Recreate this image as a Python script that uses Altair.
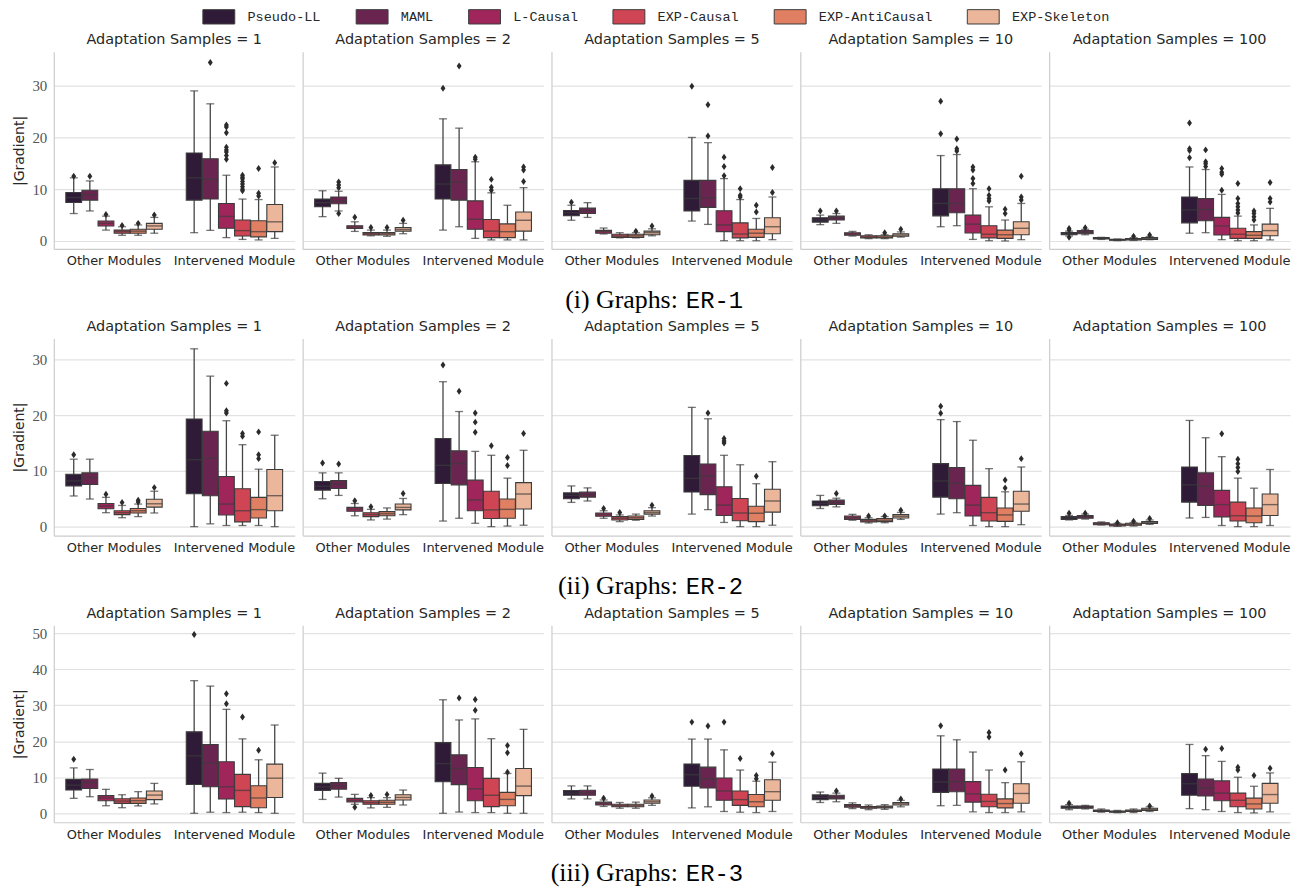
import altair as alt
import pandas as pd

METHODS = ["Pseudo-LL", "MAML", "L-Causal", "EXP-Causal", "EXP-AntiCausal", "EXP-Skeleton"]
COLORS = ["#2f1b38", "#6a2450", "#a0255b", "#d04553", "#e07f62", "#ebb699"]
CATEGORIES = ["Other Modules", "Intervened Module"]
SAMPLES = [1, 2, 5, 10, 100]
GRAPHS = ["ER-1", "ER-2", "ER-3"]
ROMAN = ["(i)", "(ii)", "(iii)"]
Y_DOMAINS = [[-1.54, 36.54], [-1.61, 33.75], [-2.49, 52.2]]
Y_TICKS = [[0, 10, 20, 30], [0, 10, 20, 30], [0, 10, 20, 30, 40, 50]]

# each inner list: 6 "Other Modules" boxes then 6 "Intervened Module" boxes (METHODS order)
# ---------------- ER-1 ----------------
ER1_LOW = [
    [5.3, 5.8, 2.1, 1.1, 1.1, 1.5, 1.6, 2.05, 0.65, 0.3, 0.2, 0.5],
    [4.7, 5.8, 1.85, 1.0, 0.9, 1.4, 2.1, 2.75, 0.5, 0.2, 0.2, 0.2],
    [4.0, 4.55, 1.35, 0.6, 0.6, 1.0, 3.85, 3.2, 0.05, 0.05, 0.05, 0.25],
    [3.15, 3.4, 0.95, 0.45, 0.45, 0.75, 2.75, 2.95, 0.3, 0.05, 0.0, 0.25],
    [0.95, 1.2, 0.3, 0.06, 0.1, 0.25, 1.5, 1.6, 0.25, 0.05, 0.05, 0.2],
]
ER1_Q1 = [
    [7.44, 7.9, 2.9, 1.5, 1.5, 2.25, 7.9, 8.1, 2.45, 0.95, 0.8, 1.8],
    [6.6, 7.2, 2.4, 1.15, 1.15, 1.9, 8.1, 7.9, 2.25, 0.65, 0.65, 1.9],
    [4.9, 5.3, 1.5, 0.7, 0.7, 1.2, 5.8, 6.5, 1.8, 0.6, 0.7, 1.4],
    [3.65, 4.05, 1.1, 0.6, 0.6, 0.9, 4.85, 5.45, 1.55, 0.6, 0.5, 1.2],
    [1.2, 1.4, 0.4, 0.13, 0.2, 0.3, 3.5, 3.9, 1.15, 0.5, 0.5, 1.0],
]
ER1_MED = [
    [8.4, 8.9, 3.4, 1.8, 1.9, 2.9, 12.2, 11.9, 4.75, 2.0, 1.8, 3.7],
    [7.4, 7.75, 2.7, 1.4, 1.4, 2.25, 11.0, 11.4, 4.2, 1.9, 1.8, 4.0],
    [5.45, 5.85, 1.8, 0.95, 1.0, 1.6, 8.2, 8.35, 3.1, 1.35, 1.5, 2.75],
    [4.05, 4.5, 1.35, 0.75, 0.75, 1.15, 7.25, 7.25, 3.25, 1.3, 1.2, 2.45],
    [1.45, 1.65, 0.5, 0.2, 0.3, 0.5, 6.0, 6.1, 2.9, 1.3, 1.1, 2.0],
]
ER1_Q3 = [
    [9.36, 9.8, 3.85, 2.1, 2.25, 3.4, 17.0, 15.9, 7.25, 4.05, 3.9, 7.05],
    [8.1, 8.5, 2.95, 1.65, 1.65, 2.6, 14.7, 13.8, 7.75, 4.15, 3.3, 5.6],
    [5.9, 6.35, 2.05, 1.3, 1.3, 1.9, 11.7, 11.7, 5.85, 3.5, 2.25, 4.5],
    [4.5, 4.8, 1.6, 1.0, 1.0, 1.4, 10.1, 10.1, 5.0, 2.95, 2.1, 3.7],
    [1.65, 2.0, 0.65, 0.3, 0.45, 0.65, 8.5, 8.2, 4.55, 2.45, 1.8, 3.25],
]
ER1_HIGH = [
    [12.2, 11.6, 4.8, 2.75, 3.1, 4.55, 29.0, 26.5, 12.7, 8.1, 8.0, 14.3],
    [9.7, 9.6, 3.7, 2.1, 2.1, 3.4, 23.6, 21.8, 15.3, 9.3, 6.9, 10.3],
    [6.9, 7.4, 2.5, 1.6, 1.6, 2.35, 20.0, 19.0, 12.05, 8.0, 4.35, 8.5],
    [5.0, 5.3, 1.85, 1.2, 1.2, 1.75, 16.5, 16.7, 10.1, 6.6, 4.05, 7.25],
    [1.9, 2.25, 0.7, 0.38, 0.65, 0.85, 14.3, 13.8, 9.0, 4.8, 3.1, 6.3],
]
ER1_OUT = [
    [[12.5], [12.5], [5.1], [3.0], [3.4], [5.0],
     [], [34.5], [22.4, 22.0, 20.9, 18.1, 17.6, 17.2, 16.5, 15.8],
     [12.7, 12.3, 12.0, 11.5, 11.0, 10.5, 10.0, 9.7], [14.0, 9.2, 8.7], [15.1]],
    [[], [11.4, 10.8, 10.3, 5.3], [4.6], [2.6], [2.6], [4.0],
     [29.5], [33.8], [16.2, 15.8], [11.9, 10.4, 9.8], [], [14.3, 13.7, 11.5]],
    [[7.5], [], [], [], [1.9], [2.9],
     [29.9], [26.3, 20.3], [16.2, 14.4, 12.6], [10.1, 8.85, 8.5], [6.9, 5.6], [14.2, 9.35]],
    [[5.8], [5.8], [], [], [1.6], [2.25],
     [27.0, 20.7], [19.7, 17.8, 17.4], [14.3, 13.7, 12.05, 11.1], [10.1, 8.85, 8.2, 7.7],
     [6.15, 5.3], [12.5, 8.5, 7.9]],
    [[2.4, 2.1, 0.7], [2.55], [], [], [0.9], [1.15],
     [22.8, 17.8, 17.5, 16.1], [17.6, 15.3, 14.9, 14.4], [14.0, 13.3, 12.9, 9.8],
     [11.1, 8.2, 7.25, 6.6, 6.0, 5.4], [5.8, 5.3, 4.7, 4.05], [11.3, 8.2, 7.55]],
]
# ---------------- ER-2 ----------------
ER2_LOW = [
    [5.5, 4.95, 2.5, 1.6, 1.8, 2.45, 0.0, 0.5, 0.2, 0.2, 0.2, 0.0],
    [5.0, 5.6, 1.95, 1.2, 1.35, 2.15, 1.0, 1.5, 0.6, 0.0, 0.1, 0.25],
    [4.35, 4.6, 1.5, 0.9, 1.15, 1.9, 2.25, 3.05, 0.75, 0.0, 0.0, 0.25],
    [3.25, 3.55, 1.15, 0.65, 0.7, 1.3, 2.25, 2.5, 0.2, 0.0, 0.0, 0.35],
    [1.2, 1.35, 0.3, 0.05, 0.1, 0.4, 1.55, 1.65, 0.2, 0.0, 0.0, 0.2],
]
ER2_Q1 = [
    [7.3, 7.55, 3.2, 2.15, 2.45, 3.5, 5.9, 5.55, 2.1, 0.85, 1.55, 2.85],
    [6.55, 6.85, 2.75, 1.8, 1.95, 3.0, 7.75, 7.5, 2.85, 1.45, 1.5, 3.15],
    [5.0, 5.3, 1.85, 1.2, 1.3, 2.25, 6.2, 5.75, 2.0, 1.05, 0.9, 2.6],
    [3.75, 4.0, 1.3, 0.85, 0.9, 1.55, 5.3, 5.0, 1.9, 1.0, 0.95, 2.75],
    [1.3, 1.5, 0.35, 0.12, 0.25, 0.55, 4.4, 3.8, 1.75, 1.0, 0.7, 2.0],
]
ER2_MED = [
    [8.2, 8.75, 3.7, 2.5, 2.85, 4.1, 12.0, 12.3, 4.05, 2.85, 3.05, 5.55],
    [7.25, 7.6, 3.15, 2.15, 2.3, 3.45, 11.0, 11.3, 4.8, 3.0, 3.1, 5.85],
    [5.6, 5.75, 2.15, 1.5, 1.6, 2.55, 8.65, 9.05, 3.85, 2.45, 2.4, 4.6],
    [4.15, 4.35, 1.6, 1.05, 1.15, 1.85, 8.2, 7.75, 3.85, 2.5, 2.1, 4.05],
    [1.55, 1.75, 0.55, 0.3, 0.4, 0.7, 7.5, 7.25, 3.95, 1.95, 1.9, 3.95],
]
ER2_Q3 = [
    [9.4, 9.65, 4.15, 2.85, 3.25, 4.9, 19.3, 17.1, 9.0, 6.8, 5.25, 10.25],
    [8.1, 8.25, 3.45, 2.5, 2.7, 4.05, 15.8, 13.6, 8.35, 6.35, 4.95, 7.9],
    [6.05, 6.2, 2.45, 1.8, 1.9, 2.85, 12.75, 11.25, 7.15, 5.05, 3.65, 6.7],
    [4.6, 4.75, 1.9, 1.3, 1.45, 2.15, 11.3, 10.6, 7.4, 5.25, 3.35, 6.35],
    [1.8, 2.0, 0.7, 0.45, 0.6, 0.9, 10.7, 9.65, 6.5, 4.4, 3.35, 5.85],
]
ER2_HIGH = [
    [12.1, 12.1, 5.25, 3.8, 4.05, 6.35, 31.9, 27.0, 19.0, 14.7, 10.3, 16.4],
    [9.65, 9.65, 4.15, 3.1, 3.35, 5.05, 26.0, 20.65, 13.5, 12.8, 8.7, 13.7],
    [7.3, 6.95, 2.85, 2.1, 2.25, 3.4, 21.4, 19.35, 12.8, 11.1, 7.7, 11.65],
    [5.6, 5.1, 2.2, 1.6, 1.8, 2.55, 19.2, 18.85, 15.5, 10.4, 6.25, 10.7],
    [2.0, 2.25, 0.85, 0.6, 0.75, 1.2, 19.05, 15.95, 12.55, 8.7, 6.9, 10.25],
]
ER2_OUT = [
    [[12.9], [], [5.8], [4.35], [4.75, 4.4], [7.0],
     [], [], [25.7, 20.8, 20.4], [16.7, 16.2], [17.0, 12.9, 12.2], []],
    [[11.4], [11.25], [4.65], [3.55], [], [5.95],
     [29.0], [24.3], [20.4, 18.75, 16.95], [14.5], [12.4, 10.95], [16.7]],
    [[], [], [3.25], [2.55], [], [3.85],
     [], [20.4], [15.8, 15.35, 15.0], [], [9.05], []],
    [[], [5.95], [], [1.9], [1.9], [2.95],
     [21.6, 20.35], [], [], [], [8.35, 6.95], [12.2]],
    [[2.4], [2.4], [], [0.7], [0.95], [1.45],
     [], [], [16.65], [12.1, 11.3, 10.6, 9.9], [], []],
]
# ---------------- ER-3 ----------------
ER3_LOW = [
    [4.15, 4.6, 2.1, 1.55, 2.05, 2.6, 0.0, 0.3, 0.2, 0.3, 0.2, 0.0],
    [3.85, 4.5, 2.5, 1.5, 1.65, 2.3, 0.0, 0.35, 0.2, 0.2, 0.0, 0.0],
    [4.0, 4.0, 1.9, 1.4, 1.4, 2.2, 1.5, 1.8, 0.5, 0.3, 0.2, 0.5],
    [3.0, 3.2, 1.3, 1.0, 1.1, 1.8, 2.1, 2.2, 0.4, 0.2, 0.2, 0.4],
    [1.0, 1.2, 0.3, 0.15, 0.2, 0.5, 1.3, 1.0, 0.5, 0.2, 0.1, 0.4],
]
ER3_Q1 = [
    [6.45, 6.9, 3.5, 2.75, 2.75, 3.8, 8.0, 7.35, 3.95, 1.85, 1.55, 4.4],
    [6.35, 6.7, 3.15, 2.5, 2.5, 3.7, 8.75, 7.95, 3.5, 1.85, 2.1, 4.9],
    [5.0, 5.0, 2.3, 1.8, 1.8, 2.8, 7.5, 7.0, 3.6, 2.2, 1.8, 3.6],
    [3.8, 4.0, 1.7, 1.4, 1.5, 2.3, 5.8, 6.0, 3.1, 1.8, 1.5, 2.8],
    [1.4, 1.4, 0.5, 0.3, 0.5, 0.8, 5.0, 4.8, 3.5, 1.8, 1.2, 2.8],
]
ER3_MED = [
    [7.8, 8.5, 4.25, 3.4, 3.5, 5.05, 15.95, 13.9, 7.35, 6.35, 4.25, 9.75],
    [7.35, 7.65, 3.6, 2.95, 3.05, 4.4, 13.8, 12.45, 6.8, 5.0, 3.85, 7.55],
    [5.6, 5.75, 2.7, 2.1, 2.15, 3.2, 10.7, 9.6, 6.2, 3.8, 3.2, 6.0],
    [4.45, 4.5, 2.05, 1.6, 1.75, 2.65, 8.7, 8.8, 5.4, 3.3, 2.7, 5.5],
    [1.7, 1.7, 0.7, 0.45, 0.7, 1.1, 8.2, 7.0, 5.6, 3.6, 2.6, 5.2],
]
ER3_Q3 = [
    [9.4, 9.5, 4.9, 4.05, 4.25, 6.2, 22.6, 19.1, 14.3, 10.8, 7.65, 13.65],
    [8.3, 8.5, 4.15, 3.5, 3.6, 5.15, 19.6, 16.2, 12.7, 9.7, 5.8, 12.45],
    [6.3, 6.4, 3.1, 2.5, 2.5, 3.7, 13.7, 12.8, 9.8, 6.2, 5.2, 9.3],
    [5.1, 5.0, 2.4, 1.9, 2.0, 3.0, 12.3, 12.3, 8.8, 5.3, 4.0, 8.2],
    [2.0, 2.0, 0.9, 0.6, 0.9, 1.4, 11.0, 9.5, 9.0, 5.6, 4.2, 8.3],
]
ER3_HIGH = [
    [12.6, 12.15, 6.65, 5.15, 6.0, 8.3, 36.8, 35.3, 28.85, 20.65, 14.85, 24.5],
    [11.15, 9.7, 5.25, 4.35, 4.35, 6.45, 31.5, 25.9, 26.2, 20.7, 11.05, 23.3],
    [7.6, 7.6, 3.7, 3.0, 3.1, 4.3, 20.6, 20.6, 17.6, 12.0, 8.9, 14.2],
    [5.9, 5.6, 2.9, 2.3, 2.4, 3.6, 21.5, 20.4, 17.0, 12.0, 8.5, 14.3],
    [2.4, 2.2, 1.2, 0.8, 1.2, 1.8, 19.1, 16.0, 14.4, 10.0, 7.5, 11.2],
]
ER3_OUT = [
    [[15.0], [], [], [], [], [],
     [49.6], [], [33.2, 30.4], [26.7], [17.5], []],
    [[], [], [1.65], [4.95], [5.25], [],
     [], [32.0], [31.6, 28.6], [], [18.8, 16.8, 11.4], []],
    [[], [], [4.2], [], [], [4.8],
     [25.3], [24.2], [25.3], [15.2], [10.5, 9.6], [16.5]],
    [[], [6.2], [], [], [], [4.0],
     [24.3], [], [], [22.4, 21.2], [12.0], [16.5]],
    [[2.8], [], [], [], [], [2.0],
     [], [17.8], [18.0], [12.8, 12.0], [10.5], [12.5]],
]

LOWS = [ER1_LOW, ER2_LOW, ER3_LOW]
Q1S = [ER1_Q1, ER2_Q1, ER3_Q1]
MEDS = [ER1_MED, ER2_MED, ER3_MED]
Q3S = [ER1_Q3, ER2_Q3, ER3_Q3]
HIGHS = [ER1_HIGH, ER2_HIGH, ER3_HIGH]
OUTS = [ER1_OUT, ER2_OUT, ER3_OUT]

LINE = "#3c3c3c"
SANS = "DejaVu Sans"
PANEL_W = 242
PANEL_H = 198
RECT_PATH = "M-2.67,-1.2H2.67V1.2H-2.67Z"
DIAMOND = "M0,-1L0.7,0L0,1L-0.7,0Z"


def panel(g, k):
    recs, outs = [], []
    for ci, cat in enumerate(CATEGORIES):
        for mi, m in enumerate(METHODS):
            i = ci * 6 + mi
            recs.append(dict(Category=cat, Method=m,
                             low=LOWS[g][k][i], q1=Q1S[g][k][i], med=MEDS[g][k][i],
                             q3=Q3S[g][k][i], high=HIGHS[g][k][i]))
            for v in OUTS[g][k][i]:
                outs.append(dict(Category=cat, Method=m, value=v))
    box_df = pd.DataFrame(recs)
    out_df = pd.DataFrame(outs, columns=["Category", "Method", "value"])

    xenc = alt.X("Category:N", sort=CATEGORIES,
                 scale=alt.Scale(domain=CATEGORIES, paddingInner=0.2, paddingOuter=0.1),
                 axis=alt.Axis(title=None, labelAngle=0, ticks=False, grid=False,
                               domain=True, domainColor="#cccccc", domainWidth=1.2,
                               labelFont=SANS, labelFontSize=13, labelColor="#262626",
                               labelPadding=6))
    xo = alt.XOffset("Method:N", sort=METHODS,
                     scale=alt.Scale(domain=METHODS, paddingInner=0.02, paddingOuter=0))
    yscale = alt.Scale(domain=Y_DOMAINS[g], nice=False, zero=False)
    yaxis = alt.Axis(values=Y_TICKS[g], grid=True, gridColor="#e2e2e2", gridWidth=1.2,
                     domain=True, domainColor="#cccccc", domainWidth=1.2, ticks=False,
                     labels=(k == 0), labelFont="Liberation Serif", labelFontSize=15,
                     labelColor="#555555", labelPadding=7,
                     titleFont=SANS, titleFontSize=14, titleFontWeight="normal",
                     titleColor="#262626", titlePadding=5)
    ytitle = "|Gradient|" if k == 0 else None

    def Y(field):
        return alt.Y(field, scale=yscale, axis=yaxis, title=ytitle)

    legend = alt.Legend(orient="none", legendX=159, legendY=-42, direction="horizontal",
                        columns=6, title=None, labelFont="Liberation Mono", labelFontSize=13.6,
                        labelColor="#262626", symbolType=RECT_PATH, symbolSize=144,
                        symbolStrokeColor=LINE, symbolStrokeWidth=1, symbolOpacity=1,
                        labelOffset=22, columnPadding=32, padding=0)

    base = alt.Chart(box_df)
    whisk = base.mark_rule(color="#454545", strokeWidth=1.3).encode(
        x=xenc, xOffset=xo, y=Y("low:Q"), y2="high:Q")
    box = base.mark_bar(stroke=LINE, strokeWidth=1.1, opacity=1).encode(
        x=xenc, xOffset=xo, y=Y("q1:Q"), y2="q3:Q",
        color=alt.Color("Method:N", sort=METHODS,
                        scale=alt.Scale(domain=METHODS, range=COLORS), legend=legend))
    med = base.mark_tick(color=LINE, size=15.9, thickness=1.4, orient="horizontal").encode(
        x=xenc, xOffset=xo, y=Y("med:Q"))
    cap_lo = base.mark_tick(color=LINE, size=8, thickness=1.3, orient="horizontal").encode(
        x=xenc, xOffset=xo, y=Y("low:Q"))
    cap_hi = base.mark_tick(color=LINE, size=8, thickness=1.3, orient="horizontal").encode(
        x=xenc, xOffset=xo, y=Y("high:Q"))
    pts = alt.Chart(out_df).mark_point(shape=DIAMOND, filled=True, size=49, color="#2b2b2b",
                                       opacity=1).encode(x=xenc, xOffset=xo, y=Y("value:Q"))
    layers = [whisk, box, med, cap_lo, cap_hi, pts]
    if k == 2:
        cap1 = alt.Chart(pd.DataFrame({"t": [ROMAN[g] + " Graphs:"]})).mark_text(
            font="Liberation Serif", fontSize=26, align="right", baseline="alphabetic",
            color="black").encode(text="t:N", x=alt.value(127), y=alt.value(257))
        cap2 = alt.Chart(pd.DataFrame({"t": [GRAPHS[g]]})).mark_text(
            font="Liberation Mono", fontSize=24, align="left", baseline="alphabetic",
            color="black").encode(text="t:N", x=alt.value(135), y=alt.value(257))
        layers += [cap1, cap2]
    return alt.layer(*layers).properties(
        width=PANEL_W, height=PANEL_H,
        title=alt.TitleParams(f"Adaptation Samples = {SAMPLES[k]}", font=SANS, fontSize=14.5,
                              fontWeight="normal", color="#262626", offset=4))


rows = [alt.hconcat(*[panel(g, k) for k in range(5)], spacing=8, bounds="flush")
        for g in range(3)]
# nested concat groups count as zero height under flush bounds, so spacing = row pitch
chart = alt.vconcat(*rows, spacing=288, bounds="flush").configure_view(
    stroke=None).properties(padding={"left": 5, "top": 0, "right": 5, "bottom": 5})

chart.save("out.html", embed_options={"renderer": "svg", "actions": False})
